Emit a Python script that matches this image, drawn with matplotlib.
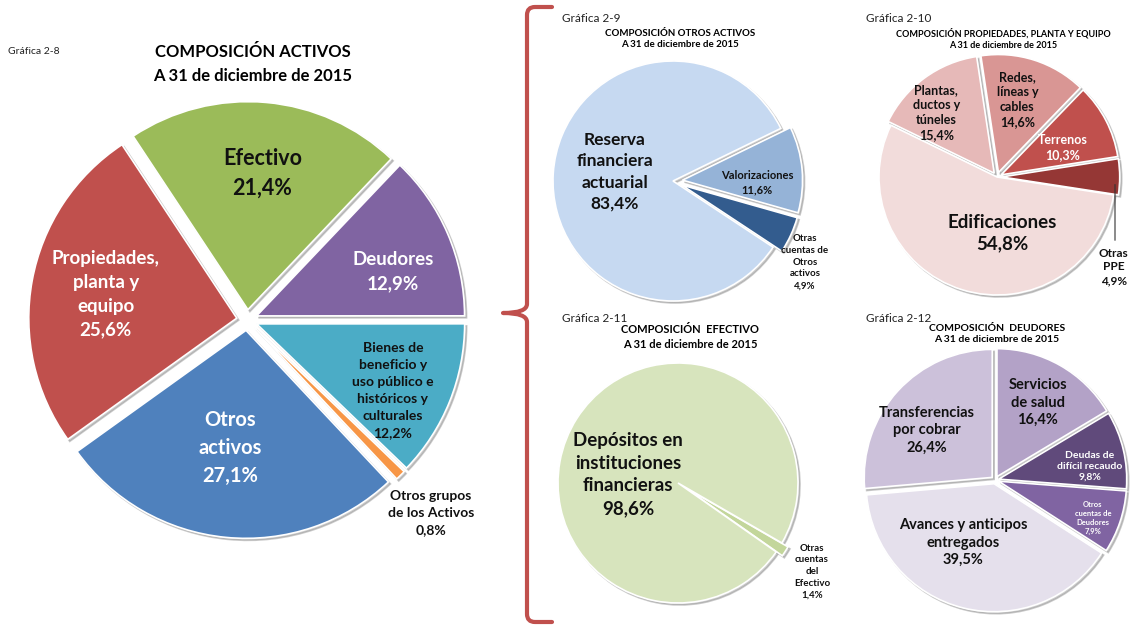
import numpy as np
import matplotlib
matplotlib.use('Agg')
import matplotlib.pyplot as plt
from matplotlib.path import Path
from matplotlib.patches import PathPatch

plt.rcParams['font.family'] = ['Lato', 'DejaVu Sans']

W, H = 1134, 629

# Gráfica 2-8: composición activos
act_names = ['Efectivo', 'Deudores',
             'Bienes de\nbeneficio y\nuso público e\nhistóricos y\nculturales',
             'Otros grupos\nde los Activos', 'Otros\nactivos',
             'Propiedades,\nplanta y\nequipo']
act_values = [21.4, 12.9, 12.2, 0.8, 27.1, 25.6]
act_colors = ['#9BBB59', '#8064A2', '#4BACC6', '#F79646', '#4F81BD', '#C0504D']

# Gráfica 2-9: otros activos
oa_names = ['Valorizaciones', 'Otras\ncuentas de\nOtros\nactivos',
            'Reserva\nfinanciera\nactuarial']
oa_values = [11.6, 4.9, 83.4]
oa_colors = ['#95B3D7', '#335C8E', '#C6D9F1']

# Gráfica 2-10: propiedades, planta y equipo
ppe_names = ['Plantas,\nductos y\ntúneles', 'Redes,\nlíneas y\ncables',
             'Terrenos', 'Otras\nPPE', 'Edificaciones']
ppe_values = [15.4, 14.6, 10.3, 4.9, 54.8]
ppe_colors = ['#E6B9B8', '#D99694', '#C0504D', '#953735', '#F2DCDB']

# Gráfica 2-11: efectivo
ef_names = ['Otras\ncuentas\ndel\nEfectivo',
            'Depósitos en\ninstituciones\nfinancieras']
ef_values = [1.4, 98.6]
ef_colors = ['#C3D69B', '#D7E4BD']

# Gráfica 2-12: deudores
de_names = ['Transferencias\npor cobrar', 'Servicios\nde salud',
            'Deudas de\ndifícil recaudo', 'Otros\ncuentas de\nDeudores',
            'Avances y anticipos\nentregados']
de_values = [26.4, 16.4, 9.8, 7.9, 39.5]
de_colors = ['#CCC1DA', '#B3A2C7', '#604A7B', '#8064A2', '#E5E0EC']


def pct(v):
    return f"{v:.1f}".replace('.', ',') + '%'


fig = plt.figure(figsize=(W / 100, H / 100), dpi=100)
PAD = 1.5


def pie_axes(cx, cy, r):
    s = r * PAD
    ax = fig.add_axes([(cx - s) / W, 1 - (cy + s) / H, 2 * s / W, 2 * s / H])
    ax.r_px = r
    return ax


def draw_pie(ax, names, values, colors, start, explode, tcolors, sizes,
             dists, shifts, ls=1.3):
    # shadow offset is given in data units (scaled by dpi/72); aim for ~2px
    off = 2.0 / ax.r_px / (100 / 72)
    shadow = {'ox': off, 'oy': -off, 'facecolor': '#8c8c8c',
              'edgecolor': '#8c8c8c', 'alpha': 0.45}
    wedges, _ = ax.pie(values, colors=colors, startangle=start,
                       counterclock=False, explode=explode, shadow=shadow,
                       wedgeprops=dict(edgecolor='white', linewidth=1.2))
    spots = []
    for w, nm, v, tc, fs, d, sh in zip(wedges, names, values, tcolors,
                                       sizes, dists, shifts):
        ang = np.deg2rad((w.theta1 + w.theta2) / 2 + sh)
        x, y = d * np.cos(ang), d * np.sin(ang)
        t = ax.text(x, y, nm + '\n' + pct(v), ha='center', va='center',
                    color=tc, fontsize=fs, fontweight='bold', linespacing=ls)
        spots.append(t)
    ax.set_xlim(-PAD, PAD)
    ax.set_ylim(-PAD, PAD)
    ax.set_aspect('equal')
    ax.axis('off')
    return wedges, spots


def ftext(x, y, s, **kw):
    fig.text(x / W, 1 - y / H, s, **kw)


# main pie
ax1 = pie_axes(247, 320, 208)
draw_pie(ax1, act_names, act_values, act_colors, 123.5, [0.05] * 6,
         ['#111111', 'white', '#111111', '#111111', 'white', 'white'],
         [15.5, 13.5, 10, 10, 14.5, 13.5],
         [0.71, 0.74, 0.78, 1.28, 0.62, 0.69],
         [-1, -5, -4, -1, -2, 0], ls=1.5)
ftext(8, 52, 'Gráfica 2-8', fontsize=7.5, va='center', color='#222222')
ftext(253, 64, 'COMPOSICIÓN ACTIVOS\nA 31 de diciembre de 2015',
      fontsize=12, fontweight='bold', ha='center', va='center', linespacing=1.55)

# otros activos
ax2 = pie_axes(673, 181, 120)
draw_pie(ax2, oa_names, oa_values, oa_colors, 26, [0.08, 0.08, 0],
         ['#111111', '#111111', '#111111'], [8, 7, 12.5],
         [0.70, 1.29, 0.49], [-6, -7, -5], ls=1.4)
ftext(562, 18, 'Gráfica 2-9', fontsize=8.5, va='center', color='#222222')
ftext(680, 39, 'COMPOSICIÓN OTROS ACTIVOS\nA 31 de diciembre de 2015',
      fontsize=7, fontweight='bold', ha='center', va='center', linespacing=1.4)

# propiedades, planta y equipo
ax3 = pie_axes(997, 177, 118)
w3, t3 = draw_pie(ax3, ppe_names, ppe_values, ppe_colors, 154,
                  [0.04, 0.04, 0.04, 0.04, 0],
                  ['#111111', '#111111', 'white', '#111111', '#111111'],
                  [9, 9, 9, 8.5, 13.5],
                  [0.75, 0.68, 0.61, 1.27, 0.48], [7, 3, -3, -39, 23],
                  ls=1.3)
# Otras PPE sits below its slice, joined by a vertical leader
t3[3].set_va('top')
t3[3].set_position((0.99, -0.60))
ax3.annotate('', xy=(1.0, -0.04), xytext=(1.0, -0.56),
             arrowprops=dict(arrowstyle='-', color='#333333', lw=0.8))
ftext(866, 18, 'Gráfica 2-10', fontsize=8.5, va='center', color='#222222')
ftext(1003, 39,
      'COMPOSICIÓN PROPIEDADES, PLANTA Y EQUIPO\nA 31 de diciembre de 2015',
      fontsize=6.5, fontweight='bold', ha='center', va='center',
      linespacing=1.4)

# efectivo
ax4 = pie_axes(678, 483, 120)
draw_pie(ax4, ef_names, ef_values, ef_colors, -30, [0.06, 0],
         ['#111111', '#111111'], [7, 13.5], [1.34, 0.42], [-1, 23],
         ls=1.4)
ftext(562, 318, 'Gráfica 2-11', fontsize=8.5, va='center', color='#222222')
ftext(690, 337, 'COMPOSICIÓN  EFECTIVO\nA 31 de diciembre de 2015',
      fontsize=8, fontweight='bold', ha='center', va='center', linespacing=1.4)

# deudores
ax5 = pie_axes(995, 480, 128)
draw_pie(ax5, de_names, de_values, de_colors, 185, [0.03] * 5,
         ['#111111', '#111111', 'white', 'white', '#111111'],
         [10.5, 10.5, 7.5, 5.5, 10.5],
         [0.66, 0.69, 0.75, 0.82, 0.55], [6.5, 0.5, -5, -2.5, -13], ls=1.3)
ftext(866, 318, 'Gráfica 2-12', fontsize=8.5, va='center', color='#222222')
ftext(997, 334, 'COMPOSICIÓN  DEUDORES\nA 31 de diciembre de 2015',
      fontsize=7.5, fontweight='bold', ha='center', va='center',
      linespacing=1.4)

# red brace
pts = [(552, 7), (535, 7), (527, 7), (527, 15), (527, 304), (527, 313),
       (503, 313), (527, 313), (527, 322), (527, 614), (527, 622), (535, 622),
       (552, 622)]
codes = [Path.MOVETO, Path.LINETO, Path.CURVE3, Path.CURVE3, Path.LINETO,
         Path.CURVE3, Path.CURVE3, Path.CURVE3, Path.CURVE3, Path.LINETO,
         Path.CURVE3, Path.CURVE3, Path.LINETO]
brace = Path([(x / W, 1 - y / H) for x, y in pts], codes)
fig.patches.append(PathPatch(brace, transform=fig.transFigure, fill=False,
                             edgecolor='#C0504D', lw=3, capstyle='round',
                             joinstyle='round'))

fig.savefig('out.png', dpi=100)
